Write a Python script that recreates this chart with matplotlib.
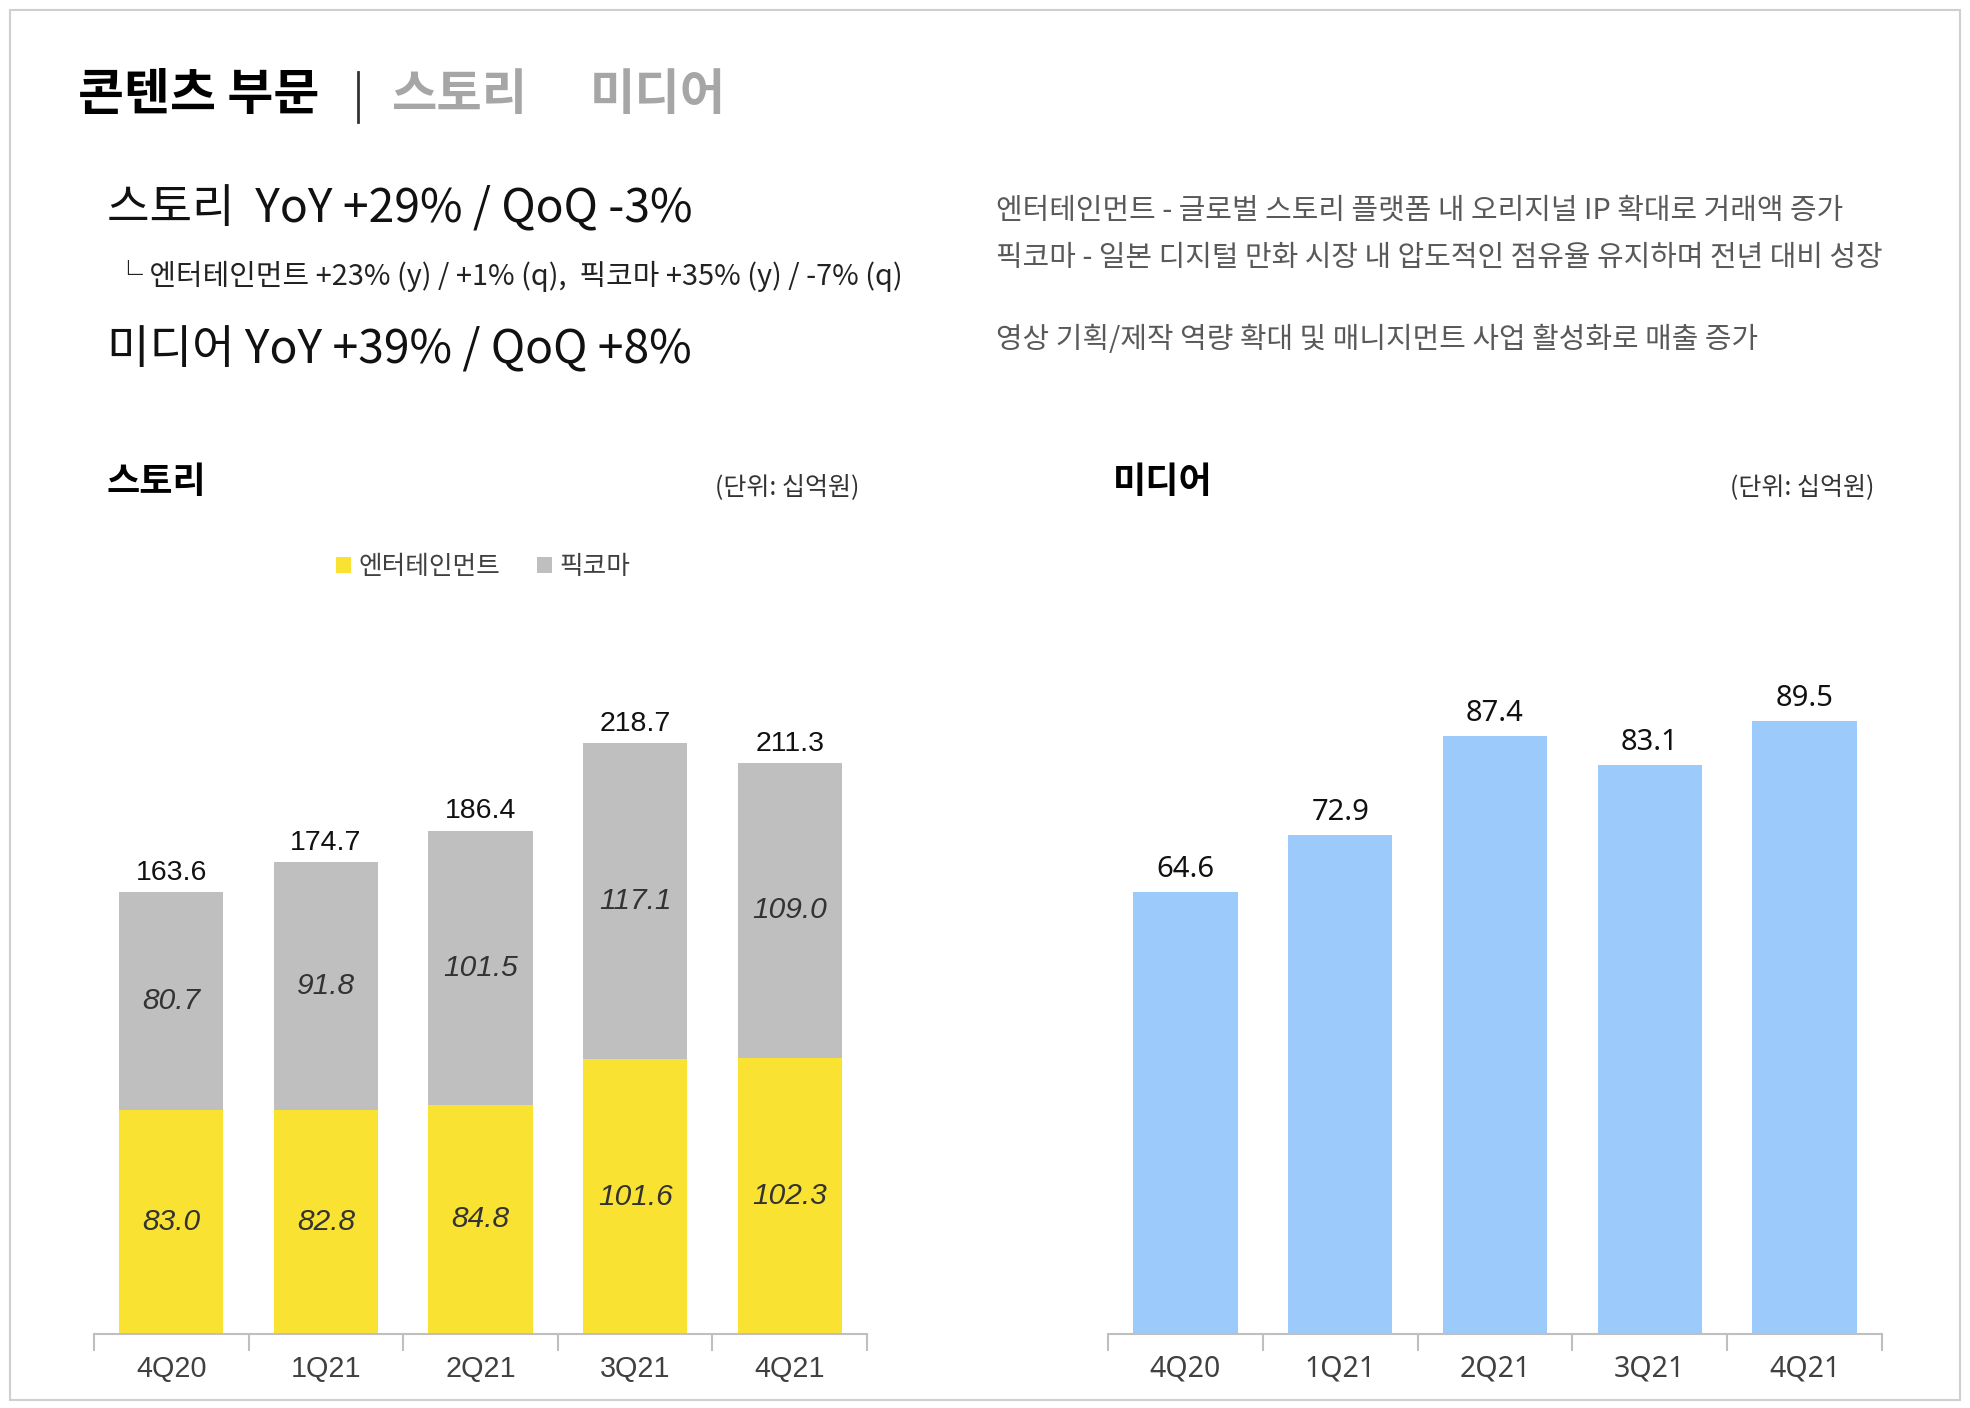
import matplotlib
matplotlib.use("Agg")
import matplotlib.pyplot as plt
from matplotlib.patches import Rectangle
from matplotlib.lines import Line2D

plt.rcParams['font.family'] = ['Noto Sans CJK KR', 'DejaVu Sans']

# ---- data ----
quarters = ["4Q20", "1Q21", "2Q21", "3Q21", "4Q21"]
entertainment = [83.0, 82.8, 84.8, 101.6, 102.3]
piccoma = [80.7, 91.8, 101.5, 117.1, 109.0]
story_total = [163.6, 174.7, 186.4, 218.7, 211.3]
media = [64.6, 72.9, 87.4, 83.1, 89.5]

YELLOW = "#F9E231"
GREY = "#BFBFBF"
BLUE = "#9CCAFA"
LIB = ['Liberation Sans', 'DejaVu Sans']
NOTO = ['Noto Sans', 'DejaVu Sans']

W, H = 1970, 1408
fig = plt.figure(figsize=(W / 100, H / 100), dpi=100)

def X(px):
    return px / W

def Y(py):
    return 1 - py / H

# card frame
fig.patches.append(Rectangle((X(10), Y(1400)), X(1950), (1390) / H, transform=fig.transFigure,
                             facecolor="white", edgecolor="#cfcfcf", linewidth=1.5, zorder=-10))

# header
fig.text(X(78), Y(95), "콘텐츠 부문", fontsize=36, fontweight="bold", color="black", va="center", ha="left")
fig.lines.append(Line2D([X(358), X(358)], [Y(72), Y(122)], transform=fig.transFigure, color="#333333", lw=2))
fig.text(X(392), Y(95), "스토리", fontsize=35.5, fontweight="bold", color="#a6a6a6", va="center", ha="left")
fig.text(X(590), Y(95), "미디어", fontsize=35.5, fontweight="bold", color="#a6a6a6", va="center", ha="left")

fig.text(X(107), Y(209), "스토리  YoY +29% / QoQ -3%", fontsize=33.3, color="#111111", va="center", ha="left")
fig.text(X(114), Y(276), "└ 엔터테인먼트 +23% (y) / +1% (q),  픽코마 +35% (y) / -7% (q)", fontsize=20.8,
         color="#222222", va="center", ha="left")
fig.text(X(107), Y(350), "미디어 YoY +39% / QoQ +8%", fontsize=33.3, color="#111111", va="center", ha="left")

fig.text(X(996), Y(211), "엔터테인먼트 - 글로벌 스토리 플랫폼 내 오리지널 IP 확대로 거래액 증가", fontsize=20.8,
         color="#595959", va="center", ha="left")
fig.text(X(996), Y(258), "픽코마 - 일본 디지털 만화 시장 내 압도적인 점유율 유지하며 전년 대비 성장", fontsize=20.8,
         color="#595959", va="center", ha="left")
fig.text(X(996), Y(340), "영상 기획/제작 역량 확대 및 매니지먼트 사업 활성화로 매출 증가", fontsize=20.8,
         color="#595959", va="center", ha="left")

# chart titles
fig.text(X(107), Y(483), "스토리", fontsize=26, fontweight="bold", color="black", va="center", ha="left")
fig.text(X(859), Y(487), "(단위: 십억원)", fontsize=18, color="#333333", va="center", ha="right")
fig.text(X(1113), Y(483), "미디어", fontsize=26, fontweight="bold", color="black", va="center", ha="left")
fig.text(X(1874), Y(487), "(단위: 십억원)", fontsize=18, color="#333333", va="center", ha="right")

# axes
axL = fig.add_axes([X(94), 1 - 1334 / H, (867 - 94) / W, (1334 - 627) / H])
axR = fig.add_axes([X(1108), 1 - 1334 / H, (1882 - 1108) / W, (1334 - 627) / H])

xs = list(range(len(quarters)))
bw = 0.675

b1 = axL.bar(xs, entertainment, width=bw, color=YELLOW, label="엔터테인먼트", zorder=2)
b2 = axL.bar(xs, piccoma, width=bw, bottom=entertainment, color=GREY, label="픽코마", zorder=2)
for i in xs:
    axL.text(i, entertainment[i] / 2, f"{entertainment[i]:.1f}", ha="center", va="center",
             fontsize=21.5, style="italic", color="#333333", family=LIB)
    axL.text(i, entertainment[i] + piccoma[i] / 2, f"{piccoma[i]:.1f}", ha="center", va="center",
             fontsize=21.5, style="italic", color="#333333", family=LIB)
    axL.text(i, story_total[i] + 7, f"{story_total[i]:.1f}", ha="center", va="center",
             fontsize=20.5, color="#111111", family=LIB)
axL.set_ylim(0, 261.6)

axR.bar(xs, media, width=bw, color=BLUE, zorder=2)
for i in xs:
    axR.text(i, media[i] + 3.3, f"{media[i]:.1f}", ha="center", va="center",
             fontsize=21, color="#111111", fontweight="medium", family=NOTO)
axR.set_ylim(0, 103.3)

for ax, fam, fs in ((axL, LIB, 20.7), (axR, NOTO, 20.5)):
    ax.set_xlim(-0.5, len(quarters) - 0.5)
    for s in ("top", "right", "left"):
        ax.spines[s].set_visible(False)
    ax.spines["bottom"].set_color("#bfbfbf")
    ax.spines["bottom"].set_linewidth(1.5)
    ax.set_yticks([])
    ax.set_xticks(xs)
    ax.set_xticklabels(quarters, fontsize=fs, color="#404040", family=fam)
    ax.tick_params(axis="x", which="major", length=0, pad=15)
    ax.set_xticks([i - 0.5 for i in range(len(quarters) + 1)], minor=True)
    ax.tick_params(axis="x", which="minor", length=12, width=1.5, color="#bfbfbf")
    ax.set_facecolor("none")

leg = axL.legend(handles=[b1, b2], loc="center left", bbox_to_anchor=(X(323), Y(567)),
                 bbox_transform=fig.transFigure, ncol=2, frameon=False, fontsize=18.5,
                 handlelength=0.6, handleheight=0.6, handletextpad=0.3, columnspacing=1.4,
                 borderpad=0, labelcolor="#404040")

fig.savefig("out.png", dpi=100, facecolor="white")
